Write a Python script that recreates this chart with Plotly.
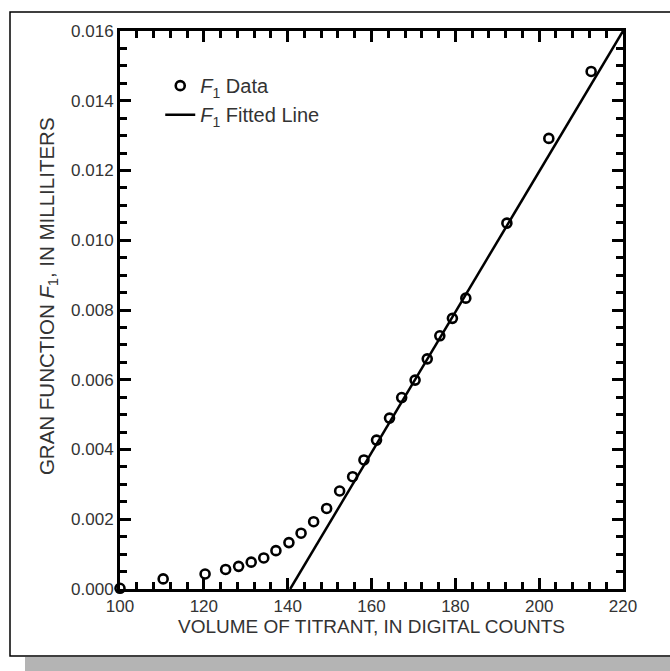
import plotly.graph_objects as go

# Data
volume_counts = [100.0, 110.3, 120.3, 125.2, 128.3, 131.3, 134.3, 137.2, 140.3, 143.2,
                 146.2, 149.3, 152.4, 155.5, 158.2, 161.2, 164.3, 167.2, 170.4, 173.3,
                 176.3, 179.3, 182.5, 192.3, 202.3, 212.4]
gran_f1 = [0.00002, 0.00029, 0.00043, 0.00056, 0.00065, 0.00077, 0.00089, 0.00110, 0.00133,
           0.00160, 0.00193, 0.00231, 0.00281, 0.00322, 0.00370, 0.00427, 0.00490, 0.00549,
           0.00599, 0.00660, 0.00726, 0.00776, 0.00834, 0.01049, 0.01292, 0.01484]
fit_x = [140.6, 220.0]
fit_y = [0.0, 0.016]

x_ticks = [100, 120, 140, 160, 180, 200, 220]
y_ticks = [0.000, 0.002, 0.004, 0.006, 0.008, 0.010, 0.012, 0.014, 0.016]

FONT = "Liberation Sans, Arial, sans-serif"
TXT = "#333333"

fig = go.Figure()
fig.add_trace(go.Scatter(
    x=volume_counts, y=gran_f1, mode="markers",
    name="<i>F</i><sub>1</sub> Data", legendgroup="a",
    marker=dict(symbol="circle-open", size=9, color="black", line=dict(width=2.6, color="black")),
    cliponaxis=False,
))
fig.add_trace(go.Scatter(
    x=fit_x, y=fit_y, mode="lines",
    name="<i>F</i><sub>1</sub> Fitted Line", legendgroup="b",
    line=dict(color="black", width=2.5),
))

axis_common = dict(
    showline=True, linewidth=3, linecolor="black", mirror="ticks",
    ticks="inside", ticklen=11, tickwidth=2.5, tickcolor="black",
    showgrid=False, zeroline=False,
    tickfont=dict(family=FONT, size=17, color=TXT),
)

fig.update_xaxes(
    range=[100, 220], tickvals=x_ticks, ticktext=[str(v) for v in x_ticks],
    minor=dict(dtick=4, tick0=100, ticks="inside", ticklen=7, tickwidth=2.5, tickcolor="black"),
    title=dict(text="VOLUME OF TITRANT, IN DIGITAL COUNTS",
               font=dict(family=FONT, size=19, color=TXT), standoff=5),
    **axis_common,
)
fig.update_yaxes(
    range=[0, 0.016], tickvals=y_ticks, ticktext=[f"{v:.3f}" for v in y_ticks],
    minor=dict(dtick=0.0005, tick0=0, ticks="inside", ticklen=7, tickwidth=2.5, tickcolor="black"),
    **axis_common,
)

fig.add_annotation(
    text="GRAN FUNCTION <i>F</i><sub>1</sub>, IN MILLILITERS",
    xref="paper", yref="paper", x=-0.143, y=0.525, textangle=-90,
    showarrow=False, font=dict(family=FONT, size=20.5, color=TXT),
    xanchor="center", yanchor="middle",
)

# outer frame and drop shadow
fig.add_shape(type="rect", xref="paper", yref="paper", xsizemode="pixel", ysizemode="pixel",
              xanchor=0, yanchor=0, x0=-95, x1=560, y0=-84, y1=-68,
              fillcolor="#b4b4b4", line=dict(width=0), layer="below")
fig.add_shape(type="rect", xref="paper", yref="paper", xsizemode="pixel", ysizemode="pixel",
              xanchor=0, yanchor=0, x0=-110, x1=560, y0=-67, y1=577,
              fillcolor="rgba(0,0,0,0)", line=dict(width=1.5, color="black"), layer="below")

fig.update_layout(
    width=670, height=671,
    margin=dict(l=120, r=47, t=31, b=82),
    paper_bgcolor="white", plot_bgcolor="white",
    font=dict(family=FONT, color=TXT),
    showlegend=True,
    legend=dict(x=0.08, y=0.937, xanchor="left", yanchor="top",
                bgcolor="rgba(0,0,0,0)", borderwidth=0,
                font=dict(family=FONT, size=20, color=TXT),
                traceorder="grouped", tracegroupgap=0),
)

fig.write_html("out.html", config={"displayModeBar": False},
               post_script="document.body.style.margin='0';document.body.style.overflow='hidden';")
